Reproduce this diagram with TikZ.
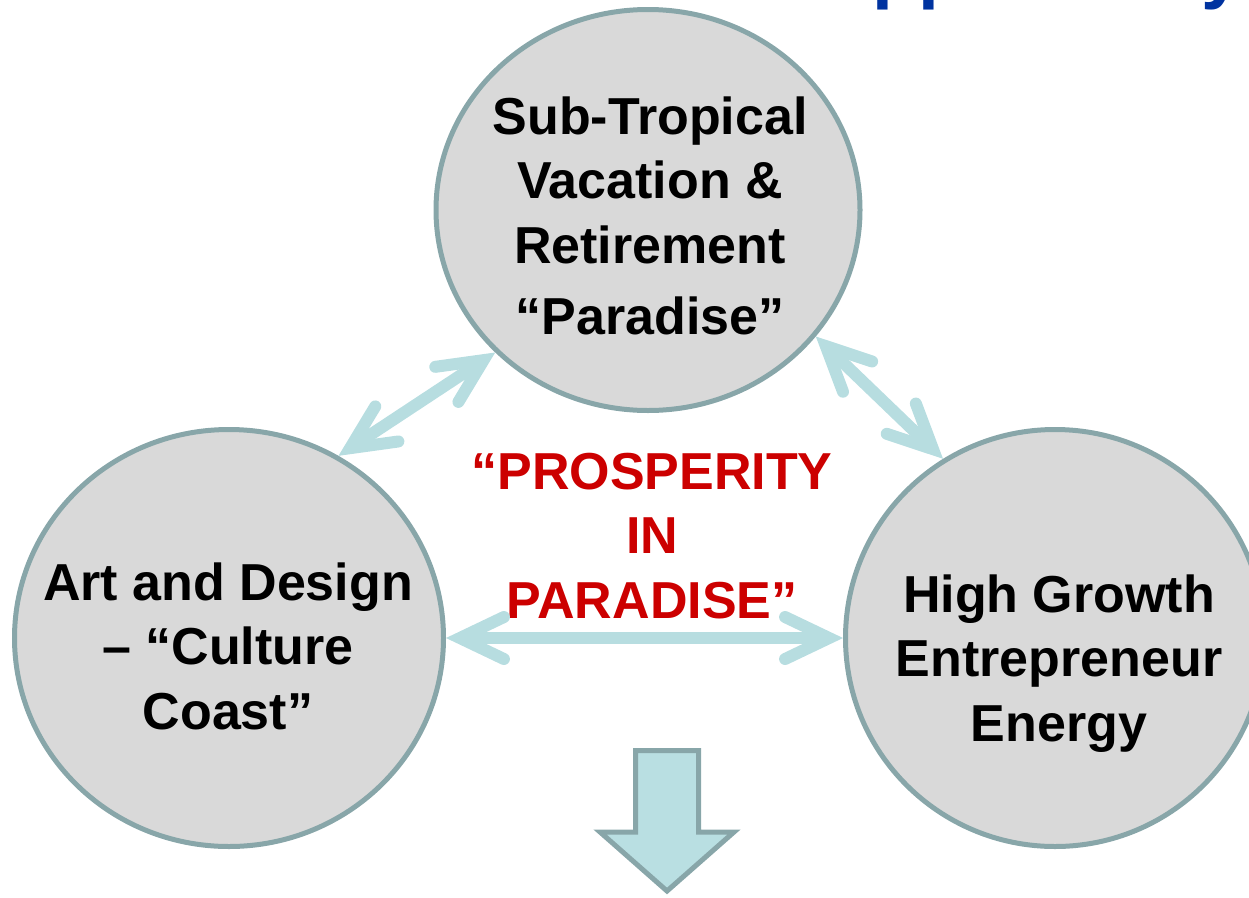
\documentclass[tikz,border=0pt]{standalone}
\usepackage{fontspec}
\setmainfont{Liberation Sans}
\usetikzlibrary{shapes.geometric,arrows.meta}
\definecolor{circfill}{HTML}{D9D9D9}
\definecolor{circline}{HTML}{88A6A9}
\definecolor{arrowblue}{HTML}{B7DDE0}
\definecolor{arrowfill}{HTML}{B9DFE2}
\definecolor{prosred}{HTML}{CC0000}
\definecolor{titleblue}{HTML}{0033A0}
\tikzset{
  barb/.tip={Straight Barb[length=44pt,width=42pt,line cap=round,line join=miter]},
  bubble/.style={ellipse, draw=circline, fill=circfill, line width=5pt, inner sep=0pt},
  lbl/.style={inner sep=0pt, anchor=base, font=\fontsize{52}{64.5}\selectfont\bfseries},
  conn/.style={draw=arrowblue, line width=12pt, barb-barb},
  blockarrow/.style={draw=circline, fill=arrowfill, line width=5pt, line join=miter}
}
\begin{document}
\begin{tikzpicture}[x=1pt,y=-1pt]
\useasboundingbox (0,0) rectangle (1249,897);
\clip (0,0) rectangle (1249,897);
\node[inner sep=0pt, anchor=base west, font=\fontsize{75}{90}\selectfont\bfseries, text=titleblue] (title) at (814,-6) {Opportunity};
\node[bubble, minimum width=424pt, minimum height=401pt] (ctop) at (648,210) {};
\node[bubble, minimum width=429pt, minimum height=417pt] (cleft) at (229,638) {};
\node[bubble, minimum width=419pt, minimum height=417pt] (cright) at (1055,638) {};
\node[lbl] (ttop) at (650,134) {\begin{tabular}[t]{@{}c@{}}Sub-Tropical\\ Vacation \&\\ Retirement\\[7pt] “Paradise”\end{tabular}};
\node[lbl] (tleft) at (228,600) {\begin{tabular}[t]{@{}c@{}}Art and Design\\ – “Culture\\ Coast”\end{tabular}};
\node[lbl] (tright) at (1059,612) {\begin{tabular}[t]{@{}c@{}}High Growth\\ Entrepreneur\\ Energy\end{tabular}};
\node[lbl, text=prosred] (tmid) at (652,489) {\begin{tabular}[t]{@{}c@{}}“PROSPERITY\\ IN\\ PARADISE”\end{tabular}};
\draw[conn] (ctop.223.4) -- (cleft.59.2);
\draw[conn] (ctop.323.5) -- (cright.122.6);
\draw[conn] (cleft.0) -- (cright.180);
\draw[blockarrow] (635.5,750.5) -- (698.5,750.5) -- (698.5,832) -- (734,832) -- (667,891) -- (600,832) -- (635.5,832) -- cycle;
\end{tikzpicture}
\end{document}
